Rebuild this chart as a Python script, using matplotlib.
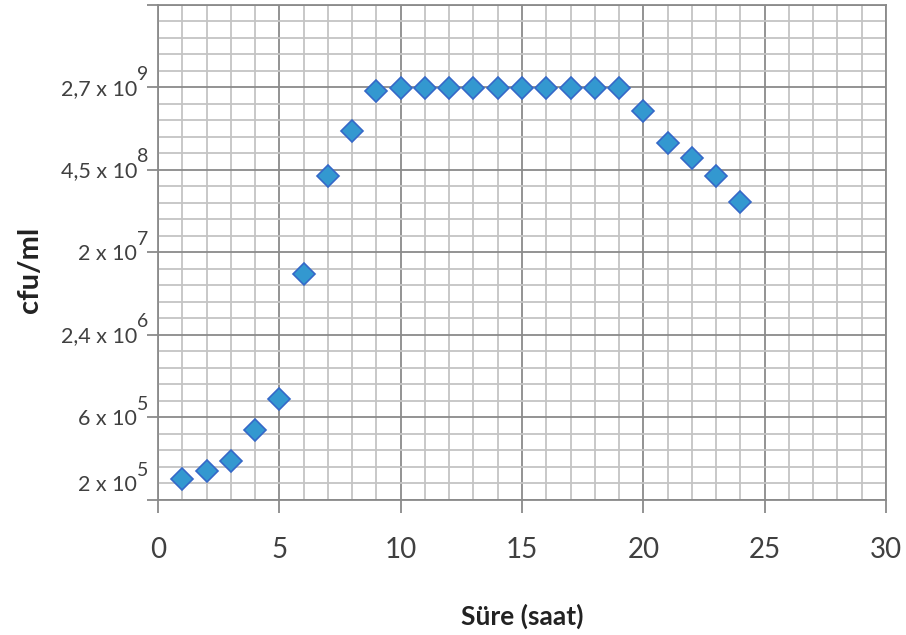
import matplotlib
matplotlib.use("Agg")
import matplotlib.pyplot as plt
import matplotlib.transforms as mtransforms
from matplotlib.ticker import MultipleLocator

hours = [1, 2, 3, 4, 5, 6, 7, 8, 9, 10, 11, 12, 13, 14, 15, 16, 17, 18, 19, 20, 21, 22, 23, 24]
level = [0.25, 0.35, 0.47, 0.84, 1.22, 2.74, 3.93, 4.47, 4.96, 4.99, 4.99, 4.99, 4.99, 4.99,
         4.99, 4.99, 4.99, 4.99, 4.99, 4.71, 4.33, 4.14, 3.93, 3.61]
ylabel_pos = [0.2, 1, 2, 3, 4, 5]
ylabel_base = ["2 x 10", "6 x 10", "2,4 x 10", "2 x 10", "4,5 x 10", "2,7 x 10"]
ylabel_exp = ["5", "5", "6", "7", "8", "9"]

plt.rcParams['font.family'] = ['Lato', 'DejaVu Sans']

fig = plt.figure(figsize=(9.06, 6.35), dpi=100)
ax = fig.add_axes([158/906, 1-499.5/635, (886-158)/906, (499.5-5)/635])

ax.set_xlim(0, 30)
ax.set_ylim(0, 6)
ax.xaxis.set_major_locator(MultipleLocator(5))
ax.xaxis.set_minor_locator(MultipleLocator(1))
ax.yaxis.set_major_locator(MultipleLocator(1))
ax.yaxis.set_minor_locator(MultipleLocator(0.2))

ax.grid(which='minor', color='#c4c4c4', linewidth=1.3)
ax.grid(which='major', color='#8a8a8a', linewidth=1.3)
ax.set_axisbelow(True)
for s in ax.spines.values():
    s.set_color('#8a8a8a')
    s.set_linewidth(1.3)

ax.tick_params(axis='y', which='major', length=8, width=1.3, color='#8a8a8a', labelleft=False)
ax.tick_params(axis='x', which='major', length=9, width=1.3, color='#8a8a8a',
               labelsize=20, labelcolor='#404040', pad=18)
ax.tick_params(which='minor', length=0)

ytrans = ax.get_yaxis_transform()
base_tr = ytrans + mtransforms.ScaledTranslation(-21/100, -1.5/100, fig.dpi_scale_trans)
exp_tr = ytrans + mtransforms.ScaledTranslation(-21/100, 13/100, fig.dpi_scale_trans)
for yp, b, e in zip(ylabel_pos, ylabel_base, ylabel_exp):
    ax.text(0, yp, b, transform=base_tr, ha='right', va='center', fontsize=15.5, color='#404040')
    ax.text(0, yp, e, transform=exp_tr, ha='left', va='center', fontsize=14, color='#404040')

ax.plot(hours, level, linestyle='none', marker='D', markersize=11,
        markerfacecolor='#3398d0', markeredgecolor='#3568c8', markeredgewidth=1.2, zorder=3,
        clip_on=False)

ax.set_xlabel("Süre (saat)", fontsize=19, fontweight='bold', color='#222222', labelpad=29)
fig.text(30/906, 1-270/635, "cfu/ml", rotation=90, ha='center', va='center',
         fontsize=21, fontweight='bold', color='#222222')

fig.savefig("out.png", dpi=100)
